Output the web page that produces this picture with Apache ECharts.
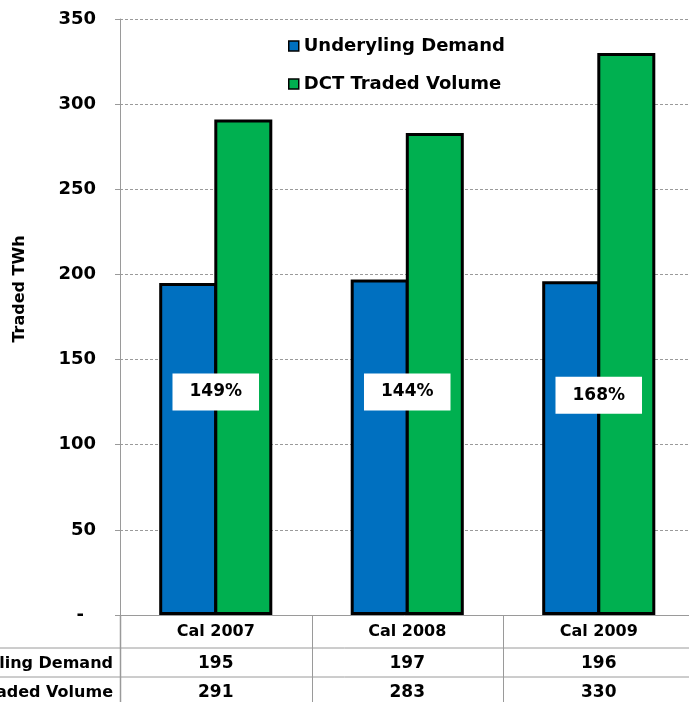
<!DOCTYPE html>
<html>
<head>
<meta charset="utf-8">
<script src="https://cdn.jsdelivr.net/npm/echarts@6/dist/echarts.min.js"></script>
<style>
  html, body { margin: 0; padding: 0; background: #fff; }
  #chart { width: 689px; height: 702px; }
</style>
</head>
<body>
<div id="chart"></div>
<script>
// Calendar years shown on the category axis
const categories = ['Cal 2007', 'Cal 2008', 'Cal 2009'];
// Traded TWh per year
const underlyingDemand = [195, 197, 196];
const dctTradedVolume = [291, 283, 330];
// Series / table row names
const seriesNames = ['Underyling Demand', 'DCT Traded Volume'];
// Value axis range
const yMin = 0, yMax = 350, yStep = 50;

const FONT = '"DejaVu Sans", Verdana, sans-serif';
const BLUE = '#0070C0';
const GREEN = '#00B050';
const LINE = '#9a9a9a';

// Ratio of traded volume to demand, e.g. 149%
const ratioText = i => Math.round(dctTradedVolume[i] / underlyingDemand[i] * 100) + '%';
// Height (in TWh) at which each ratio badge sits
const ratioBadgeAt = [131, 131, 129];

const chart = echarts.init(document.getElementById('chart'), null, { renderer: 'canvas' });

const option = {
  animation: false,
  backgroundColor: '#fff',
  textStyle: { fontFamily: FONT },
  // the plot runs slightly past the right edge of the canvas
  grid: { left: 120, right: -5.5, top: 19, bottom: 87, containLabel: false, outerBoundsMode: 'none' },
  legend: {
    data: seriesNames,
    orient: 'vertical',
    left: 288,
    top: 37,
    padding: 0,
    itemWidth: 10,
    itemHeight: 10,
    itemGap: 20,
    icon: 'rect',
    itemStyle: { borderColor: '#000', borderWidth: 1.5 },
    textStyle: { fontFamily: FONT, fontWeight: 'bold', fontSize: 18, lineHeight: 18, color: '#000' }
  },
  xAxis: {
    type: 'category',
    data: categories,
    axisLine: { show: true, lineStyle: { color: LINE, width: 1 } },
    axisTick: { show: false },
    axisLabel: { margin: 9, fontFamily: FONT, fontWeight: 'bold', fontSize: 16, color: '#000' },
    splitLine: { show: false }
  },
  yAxis: {
    type: 'value',
    min: yMin,
    max: yMax,
    interval: yStep,
    axisLine: { show: true, lineStyle: { color: LINE, width: 1 } },
    axisTick: { show: true, inside: false, length: 5, lineStyle: { color: LINE } },
    axisLabel: {
      margin: 24,
      fontFamily: FONT,
      fontWeight: 'bold',
      fontSize: 18,
      color: '#000',
      formatter: v => (v === 0 ? '{z|-}' : String(v)),
      rich: { z: { fontFamily: FONT, fontWeight: 'bold', fontSize: 18, color: '#000', padding: [0, 12, 0, 0] } }
    },
    splitLine: { show: true, lineStyle: { color: LINE, type: [3, 2], width: 1 } }
  },
  series: [
    {
      name: seriesNames[0],
      type: 'bar',
      data: underlyingDemand,
      barWidth: 58,
      barGap: '-5%',
      itemStyle: { color: BLUE, borderColor: '#000', borderWidth: 3 }
    },
    {
      name: seriesNames[1],
      type: 'bar',
      data: dctTradedVolume,
      barWidth: 58,
      barGap: '-5%',
      itemStyle: { color: GREEN, borderColor: '#000', borderWidth: 3 }
    }
  ]
};

chart.setOption(option);

// Ratio badges, data table under the plot, and the rotated axis title
function buildOverlay() {
  const W = 689;
  const baseY = chart.convertToPixel({ yAxisIndex: 0 }, 0);
  const c0 = chart.convertToPixel({ xAxisIndex: 0 }, 0);
  const c1 = chart.convertToPixel({ xAxisIndex: 0 }, 1);
  const band = c1 - c0;
  const row1 = baseY + 33;
  const row2 = row1 + 29;
  const row3 = row2 + 29;
  const els = [];

  // ratio badges: white box with the percentage
  categories.forEach((c, i) => {
    const p = chart.convertToPixel({ xAxisIndex: 0, yAxisIndex: 0 }, [i, ratioBadgeAt[i]]);
    els.push({
      type: 'text', x: p[0], y: p[1], z: 100,
      style: {
        text: ratioText(i), align: 'center', verticalAlign: 'middle',
        font: 'bold 17px ' + FONT, fill: '#000',
        backgroundColor: '#fff', padding: [9, 17, 9, 17], lineHeight: 19
      },
      silent: true
    });
  });

  // horizontal row rules
  [row1, row2].forEach(y => {
    els.push({ type: 'line', shape: { x1: 0, y1: y, x2: W, y2: y }, style: { stroke: LINE, lineWidth: 1 }, silent: true });
  });
  // vertical column rules
  for (let i = 0; i <= categories.length; i++) {
    const x = Math.round(c0 - band / 2 + i * band) + 0.5;
    els.push({ type: 'line', shape: { x1: x, y1: baseY, x2: x, y2: row3 + 20 }, style: { stroke: LINE, lineWidth: i === 0 ? 1.5 : 1 }, silent: true });
  }
  const rows = [underlyingDemand, dctTradedVolume];
  rows.forEach((vals, r) => {
    const yc = (r === 0 ? (row1 + row2) / 2 : (row2 + row3) / 2) + 1;
    els.push({
      type: 'text', x: 113, y: yc,
      style: { text: seriesNames[r], align: 'right', verticalAlign: 'middle', font: 'bold 16px ' + FONT, fill: '#000' },
      silent: true
    });
    vals.forEach((v, i) => {
      const x = chart.convertToPixel({ xAxisIndex: 0 }, i);
      els.push({
        type: 'text', x: x, y: yc,
        style: { text: String(v), align: 'center', verticalAlign: 'middle', font: 'bold 17px ' + FONT, fill: '#000' },
        silent: true
      });
    });
  });
  // axis title
  els.push({
    type: 'text', x: 20, y: 289, rotation: Math.PI / 2,
    style: { text: 'Traded TWh', align: 'center', verticalAlign: 'middle', font: 'bold 16px ' + FONT, fill: '#000' },
    silent: true
  });
  chart.setOption({ graphic: els });
}
buildOverlay();
</script>
</body>
</html>
